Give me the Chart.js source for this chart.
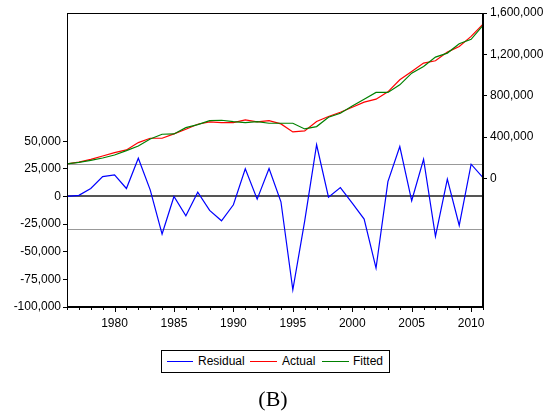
<!DOCTYPE html>
<html>
<head>
<meta charset="utf-8">
<script src="https://cdn.jsdelivr.net/npm/chart.js@4.4.1/dist/chart.umd.min.js"></script>
<style>
  html,body{margin:0;padding:0;background:#fff;}
  #wrap{position:relative;width:553px;height:414px;font-family:"Liberation Sans",Arial,sans-serif;}
  canvas{position:absolute;left:0;top:0;}
  #legend{position:absolute;left:161px;top:350px;width:227px;height:21px;border:1px solid #000;background:#fff;}
  .ln{position:absolute;top:10px;height:0;border-top:1px solid;}
  .tx{position:absolute;top:3px;font-size:12px;line-height:14px;color:#000;white-space:nowrap;}
  #cap{position:absolute;left:0;width:546px;top:388px;line-height:22px;text-align:center;font-family:"Liberation Serif","Times New Roman",serif;font-size:22px;color:#000;}
</style>
</head>
<body>
<div id="wrap">
  <canvas id="c" width="553" height="414"></canvas>
  <div id="legend">
    <div class="ln" style="left:5px;width:26px;border-color:#0000ff"></div>
    <div class="tx" style="left:36px">Residual</div>
    <div class="ln" style="left:88px;width:27px;border-color:#ff0000"></div>
    <div class="tx" style="left:120px">Actual</div>
    <div class="ln" style="left:160px;width:27px;border-color:#008000"></div>
    <div class="tx" style="left:191px">Fitted</div>
  </div>
  <div id="cap">(B)</div>
</div>
<script>
const years = [1976,1977,1978,1979,1980,1981,1982,1983,1984,1985,1986,1987,1988,1989,1990,1991,1992,1993,1994,1995,1996,1997,1998,1999,2000,2001,2002,2003,2004,2005,2006,2007,2008,2009,2010,2011];
const residual = [0,1000,7200,18000,19600,7200,34600,6000,-34000,0,-17500,3900,-12600,-22000,-7500,25000,-2400,25300,-4800,-84500,-22000,46800,-600,8100,-6000,-20500,-64800,13500,45200,-3900,33700,-36100,15700,-26200,29200,17000];
const actual = [139000,157000,184000,216500,249000,274700,345800,387800,387800,429900,475100,523600,546200,539700,539700,565000,546200,559000,526800,449200,459000,549400,598000,640000,688400,737000,766000,837000,953400,1034000,1115000,1137700,1221700,1276600,1373600,1493000];
const fitted = [139000,155000,174500,197000,226000,268000,313500,381000,426600,430000,491000,520000,559000,562000,549000,540000,549000,533000,533000,533000,478000,501000,591000,630000,701000,766000,831000,831000,905000,1018000,1083000,1173000,1212000,1302000,1345000,1480000];
const leftTicks = [-100000,-75000,-50000,-25000,0,25000,50000];
const rightTicks = [0,400000,800000,1200000,1600000];
const bandLevels = [29300,-29300];
const zeroLevel = 0;

const fmt = v => Number(v).toLocaleString('en-US');

const refLines = {
  id:'refLines',
  beforeDatasetsDraw(chart){
    const {ctx, chartArea:a} = chart;
    const y = chart.scales.yL;
    ctx.save();
    ctx.strokeStyle = '#999';
    ctx.lineWidth = 1;
    bandLevels.forEach(v=>{
      const p = Math.round(y.getPixelForValue(v))+0.5;
      ctx.beginPath(); ctx.moveTo(a.left,p); ctx.lineTo(a.right,p); ctx.stroke();
    });
    ctx.strokeStyle = '#555';
    ctx.lineWidth = 2;
    const p0 = Math.round(y.getPixelForValue(zeroLevel));
    ctx.beginPath(); ctx.moveTo(a.left,p0); ctx.lineTo(a.right,p0); ctx.stroke();
    ctx.restore();
  },
  afterDraw(chart){
    const {ctx, chartArea:a} = chart;
    const xs = chart.scales.x;
    ctx.save();
    ctx.strokeStyle = '#000';
    ctx.lineWidth = 1;
    ctx.strokeRect(Math.round(a.left)+0.5, Math.round(a.top)+0.5, Math.round(a.right-a.left)-1, Math.round(a.bottom-a.top)-1);
    const b = Math.round(a.bottom);
    years.forEach(v=>{
      const px = Math.round(xs.getPixelForValue(v))+0.5;
      const len = (v%5===0) ? 5 : 3;
      ctx.beginPath(); ctx.moveTo(px,b); ctx.lineTo(px,b+len); ctx.stroke();
    });
    ctx.restore();
  }
};

const mk = arr => years.map((x,i)=>({x, y:arr[i]}));

new Chart(document.getElementById('c'), {
  type:'line',
  data:{
    datasets:[
      {label:'Residual', data:mk(residual), yAxisID:'yL', borderColor:'#0000ff', borderWidth:1.2, pointRadius:0, tension:0, order:2},
      {label:'Actual', data:mk(actual), yAxisID:'yR', borderColor:'#ff0000', borderWidth:1.2, pointRadius:0, tension:0, order:1},
      {label:'Fitted', data:mk(fitted), yAxisID:'yR', borderColor:'#008000', borderWidth:1.2, pointRadius:0, tension:0, order:0}
    ]
  },
  options:{
    responsive:false,
    animation:false,
    devicePixelRatio:1,
    layout:{padding:{top:13,left:0,right:0,bottom:0}},
    plugins:{legend:{display:false}, tooltip:{enabled:false}},
    scales:{
      x:{
        type:'linear', min:1976, max:2011,
        afterFit(s){ s.height = 107; },
        afterBuildTicks(s){ s.ticks = years.map(v=>({value:v})); },
        ticks:{autoSkip:false, maxRotation:0, padding:9, color:'#000', font:{family:'"Liberation Sans", Arial', size:12},
          callback:v => (v%5===0 ? String(v) : '')},
        grid:{drawOnChartArea:false, drawTicks:false, color:'#000'},
        border:{display:true, color:'#000', width:1}
      },
      yL:{
        type:'linear', position:'left', min:-100000, max:166000,
        afterFit(s){ s.width = 67; },
        afterBuildTicks(s){ s.ticks = leftTicks.map(v=>({value:v})); },
        ticks:{padding:2, color:'#000', font:{family:'"Liberation Sans", Arial', size:12}, callback:v=>fmt(v)},
        grid:{drawOnChartArea:false, drawTicks:true, tickLength:4, color:'#000'},
        border:{display:true, color:'#000', width:1}
      },
      yR:{
        type:'linear', position:'right', min:-1245000, max:1600000,
        afterFit(s){ s.width = 70; },
        afterBuildTicks(s){ s.ticks = rightTicks.map(v=>({value:v})); },
        ticks:{padding:3, color:'#000', font:{family:'"Liberation Sans", Arial', size:12}, callback:v=>fmt(v)},
        grid:{drawOnChartArea:false, drawTicks:true, tickLength:4, color:'#000'},
        border:{display:true, color:'#000', width:1}
      }
    }
  },
  plugins:[refLines]
});
</script>
</body>
</html>
